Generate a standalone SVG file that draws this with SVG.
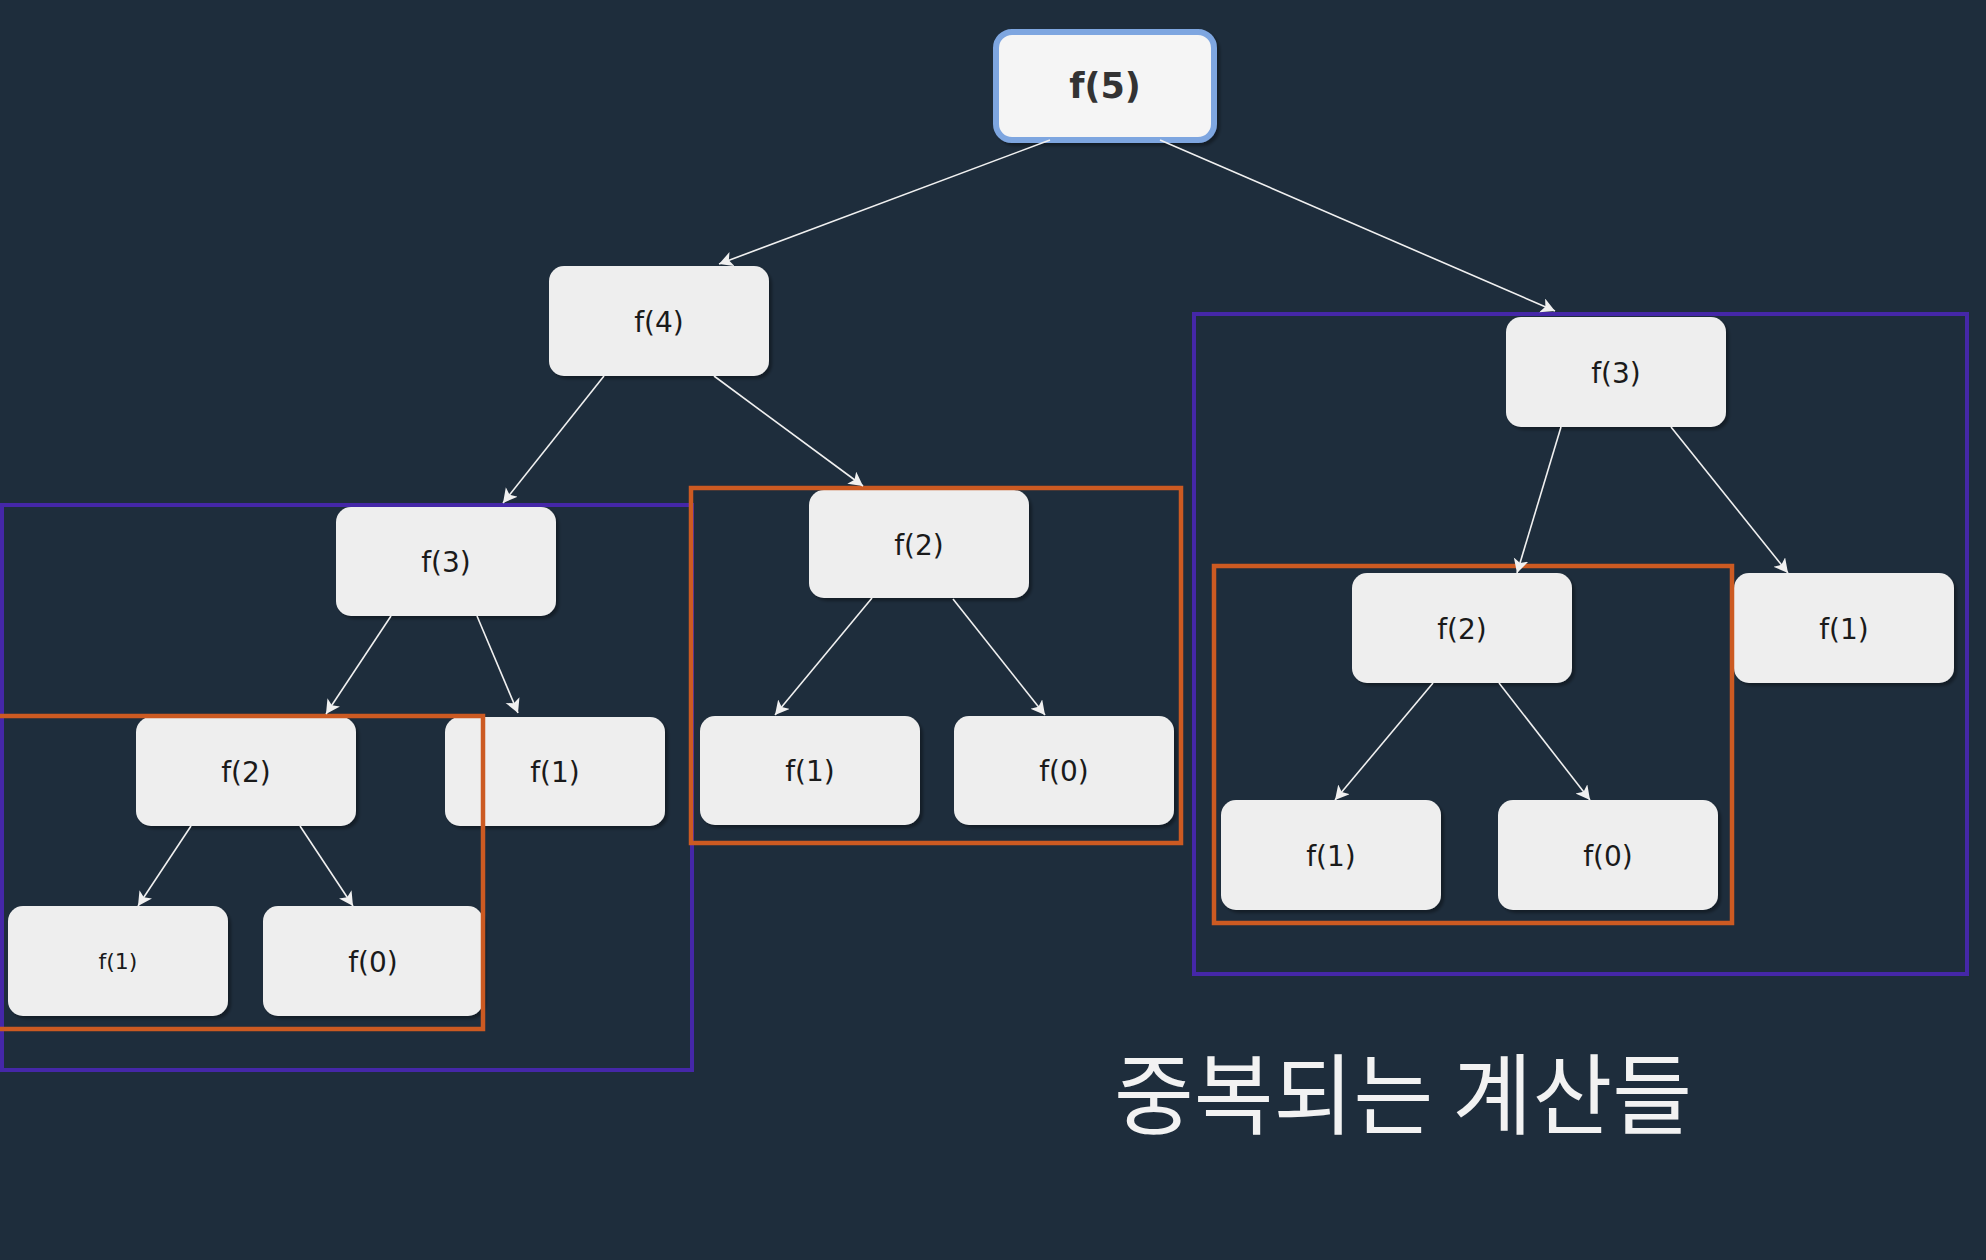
<svg xmlns="http://www.w3.org/2000/svg" width="1986" height="1260" viewBox="0 0 1986 1260">
<defs>
<style>
.node rect{fill:#eeeeee;stroke:none;filter:url(#sh)}
.node text{font-family:"DejaVu Sans","Liberation Sans",sans-serif;font-size:28px;fill:#1a1a1a;text-anchor:middle}
.purple{fill:none;stroke:#4527a8;stroke-width:4}
.orange{fill:none;stroke:#cc5a22;stroke-width:4.5}
#edges line{stroke:#f0f0f0;stroke-width:1.6;marker-end:url(#arr)}
</style>
<filter id="sh" x="-10%" y="-10%" width="125%" height="130%">
<feDropShadow dx="3" dy="3" stdDeviation="1.5" flood-color="#000000" flood-opacity="0.35"/>
</filter>
<marker id="arr" markerUnits="userSpaceOnUse" markerWidth="16" markerHeight="16" refX="14" refY="7.5" orient="auto" viewBox="0 0 16 16">
<path d="M0,0 L14,7.5 L0,15 L3.5,7.5 Z" fill="#f0f0f0"/>
</marker>
</defs>
<rect x="0" y="0" width="1986" height="1260" fill="#1e2d3c"/>

<g id="n5" class="node"><rect x="996" y="32" width="218" height="108" rx="16" style="fill:#f5f5f5;stroke:#7ea6e0;stroke-width:6"/><text x="1105" y="98" style="font-weight:bold;font-size:35px;fill:#333333">f(5)</text></g>
<g id="n4" class="node"><rect x="549" y="266" width="220" height="110" rx="15"/><text x="659" y="332">f(4)</text></g>
<g id="n3L" class="node"><rect x="336" y="507" width="220" height="109" rx="15"/><text x="446" y="572">f(3)</text></g>
<g id="n2M" class="node"><rect x="809" y="490" width="220" height="108" rx="15"/><text x="919" y="555">f(2)</text></g>
<g id="n3R" class="node"><rect x="1506" y="317" width="220" height="110" rx="15"/><text x="1616" y="383">f(3)</text></g>
<g id="n2L" class="node"><rect x="136" y="717" width="220" height="109" rx="15"/><text x="246" y="782">f(2)</text></g>
<g id="n1L" class="node"><rect x="445" y="717" width="220" height="109" rx="15"/><text x="555" y="782">f(1)</text></g>
<g id="n1M" class="node"><rect x="700" y="716" width="220" height="109" rx="15"/><text x="810" y="781">f(1)</text></g>
<g id="n0M" class="node"><rect x="954" y="716" width="220" height="109" rx="15"/><text x="1064" y="781">f(0)</text></g>
<g id="n1LL" class="node"><rect x="8" y="906" width="220" height="110" rx="15"/><text x="118" y="969" style="font-size:22px">f(1)</text></g>
<g id="n0LL" class="node"><rect x="263" y="906" width="220" height="110" rx="15"/><text x="373" y="972">f(0)</text></g>
<g id="n2R" class="node"><rect x="1352" y="573" width="220" height="110" rx="15"/><text x="1462" y="639">f(2)</text></g>
<g id="n1R" class="node"><rect x="1734" y="573" width="220" height="110" rx="15"/><text x="1844" y="639">f(1)</text></g>
<g id="n1RB" class="node"><rect x="1221" y="800" width="220" height="110" rx="15"/><text x="1331" y="866">f(1)</text></g>
<g id="n0RB" class="node"><rect x="1498" y="800" width="220" height="110" rx="15"/><text x="1608" y="866">f(0)</text></g>

<g id="groups">
<rect class="purple" x="2" y="505" width="690" height="565"/>
<rect class="orange" x="-10" y="716" width="493" height="313"/>
<rect class="orange" x="691" y="488" width="490" height="355"/>
<rect class="purple" x="1194" y="314" width="773" height="660"/>
<rect class="orange" x="1214" y="566" width="518" height="357"/>
</g>

<g id="edges">
<line x1="1050" y1="140" x2="719" y2="264"/>
<line x1="1160" y1="140" x2="1555" y2="311"/>
<line x1="604" y1="376" x2="503" y2="503"/>
<line x1="714" y1="376" x2="863" y2="486"/>
<line x1="391" y1="616" x2="326" y2="714"/>
<line x1="477" y1="616" x2="518" y2="713"/>
<line x1="872" y1="598" x2="775" y2="715"/>
<line x1="953" y1="599" x2="1045" y2="715"/>
<line x1="191" y1="826" x2="138" y2="906"/>
<line x1="300" y1="826" x2="353" y2="906"/>
<line x1="1561" y1="427" x2="1517" y2="573"/>
<line x1="1671" y1="427" x2="1788" y2="573"/>
<line x1="1433" y1="683" x2="1335" y2="800"/>
<line x1="1499" y1="683" x2="1590" y2="800"/>
</g>

<text id="caption" x="1114" y="1127" textLength="578" lengthAdjust="spacingAndGlyphs" style="font-family:'Noto Sans CJK KR','Noto Sans CJK SC',sans-serif;font-size:88px;fill:#f2f2f2">중복되는 계산들</text>
</svg>
